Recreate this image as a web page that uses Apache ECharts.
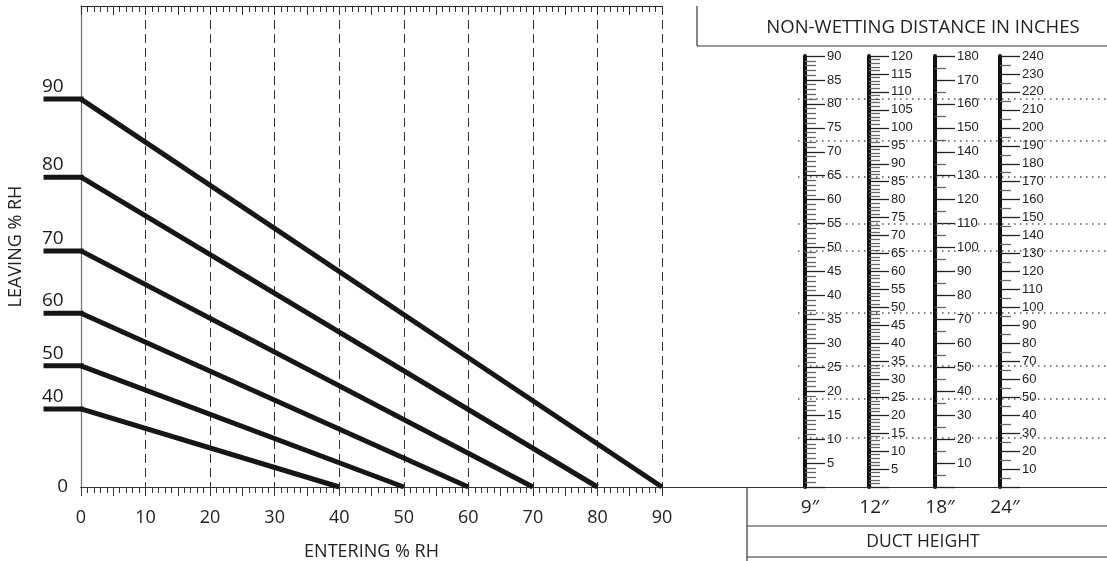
<!DOCTYPE html>
<html><head><meta charset="utf-8">
<script src="https://cdn.jsdelivr.net/npm/echarts@6/dist/echarts.min.js"></script>
<style>html,body{margin:0;padding:0;background:#fff}#c{width:1107px;height:561px}</style>
</head><body><div id="c"></div>
<script>
// ---- data ----
const enteringMax = 90;
const leavingRH = [90, 80, 70, 60, 50, 40];
// start height of each leaving line, in 9-inch non-wetting distance units
const leavingPos = [81.0, 64.7, 49.3, 36.3, 25.3, 16.3];
// dotted reference levels in 9-inch distance units
const dottedPos = [81.0, 72.2, 64.7, 54.9, 49.3, 36.3, 25.3, 18.4, 10.2];
const ductHeights = ['9\u2033', '12\u2033', '18\u2033', '24\u2033'];
const scaleMax = [90, 120, 180, 240];
const scaleStep = [5, 5, 10, 10];
const scaleMinorSplit = [5, 5, 2, 2];

// ---- layout ----
const plotTop = 6, axisY = 487, scaleTop = 56;
const plotLeft = 81, plotRight90 = 662, stubLeft = 46;
const scaleBarX = [805, 869, 935, 1000];
const mainYMax = scaleMax[0] * (axisY - plotTop) / (axisY - scaleTop);
const numFont = 'Open Sans';
const scaleFont = 'Liberation Sans';

const G = o => Object.assign({outerBoundsMode: 'none', containLabel: false}, o);
const grids = [
  G({left: plotLeft, top: plotTop, width: plotRight90 - plotLeft, height: axisY - plotTop}),
  G({left: plotLeft, top: plotTop, right: 0, height: axisY - plotTop}),
  G({left: 798, top: scaleTop, right: 0, height: axisY - scaleTop}),
  G({left: stubLeft, top: plotTop, width: plotLeft - stubLeft, height: axisY - plotTop})
];
scaleBarX.forEach(x => grids.push(G({left: x, top: scaleTop, width: 40, height: axisY - scaleTop})));

const tickStyle = {color: '#333', width: 1};
const xAxes = [
  {gridIndex: 0, type: 'value', position: 'bottom', min: 0, max: enteringMax, interval: 10,
   axisLine: {show: true, onZero: false, lineStyle: {color: '#222', width: 1}},
   axisTick: {show: true, length: 9, lineStyle: tickStyle},
   minorTick: {show: true, splitNumber: 10, length: 6, lineStyle: tickStyle},
   axisLabel: {show: true, margin: 22, fontFamily: numFont, fontSize: 18, color: '#222'},
   splitLine: {show: true, lineStyle: {color: '#333', width: 1, type: [9, 5]}},
   name: 'ENTERING % RH', nameLocation: 'middle', nameGap: 56,
   nameTextStyle: {fontFamily: numFont, fontSize: 18, color: '#222'}},
  {gridIndex: 0, type: 'value', position: 'bottom', min: 0, max: enteringMax, interval: 5,
   axisLine: {show: false}, axisTick: {show: true, length: 9, lineStyle: tickStyle},
   axisLabel: {show: false}, splitLine: {show: false}},
  {gridIndex: 0, type: 'value', position: 'top', min: 0, max: enteringMax, interval: 10,
   axisLine: {show: true, lineStyle: {color: '#222', width: 1}},
   axisTick: {show: true, inside: true, length: 9, lineStyle: tickStyle},
   minorTick: {show: true, splitNumber: 10, length: 6, lineStyle: tickStyle},
   axisLabel: {show: false}, splitLine: {show: false}},
  {gridIndex: 0, type: 'value', position: 'top', min: 0, max: enteringMax, interval: 5,
   axisLine: {show: false}, axisTick: {show: true, inside: true, length: 9, lineStyle: tickStyle},
   axisLabel: {show: false}, splitLine: {show: false}},
  {gridIndex: 1, type: 'value', position: 'bottom', min: 0, max: 1,
   axisLine: {show: true, onZero: false, lineStyle: {color: '#333', width: 1.2}},
   axisTick: {show: false}, axisLabel: {show: false}, splitLine: {show: false}},
  {gridIndex: 1, type: 'value', position: 'top', min: 0, max: 1,
   axisLine: {show: true, lineStyle: {color: '#333', width: 1.2}},
   axisTick: {show: false}, axisLabel: {show: false}, splitLine: {show: false}},
  {gridIndex: 2, type: 'value', min: 0, max: 1, show: false},
  {gridIndex: 3, type: 'value', min: 0, max: 1, show: false}
];
scaleBarX.forEach((x, i) => xAxes.push({gridIndex: 4 + i, type: 'value', min: 0, max: 1, show: false}));

const yAxes = [
  {gridIndex: 0, type: 'value', min: 0, max: mainYMax, interval: 50,
   axisLine: {show: true, lineStyle: {color: '#777', width: 1.3}},
   axisTick: {show: false}, splitLine: {show: false},
   axisLabel: {show: true, margin: 13, fontFamily: numFont, fontSize: 19, color: '#222',
               formatter: v => v === 0 ? '0' : ''},
   name: 'LEAVING % RH', nameLocation: 'middle', nameGap: 56,
   nameTextStyle: {fontFamily: numFont, fontSize: 18, color: '#222'}},
  {gridIndex: 1, type: 'value', min: 0, max: 1, show: false},
  {gridIndex: 2, type: 'value', min: 0, max: scaleMax[0], show: false},
  {gridIndex: 3, type: 'value', min: 0, max: mainYMax, show: false}
];
scaleBarX.forEach((x, i) => yAxes.push({
  gridIndex: 4 + i, type: 'value', position: 'left', min: 0, max: scaleMax[i], interval: scaleStep[i],
  axisLine: {show: true, lineStyle: {color: '#111', width: 4}},
  axisTick: {show: true, inside: true, length: 20, lineStyle: {color: '#222', width: 1.3}},
  minorTick: {show: true, splitNumber: scaleMinorSplit[i], length: 11, lineStyle: {color: '#666', width: 1.3}},
  axisLabel: {show: true, inside: true, margin: 22, fontFamily: scaleFont, fontSize: 13, color: '#222',
              formatter: v => v === 0 ? '' : String(v)},
  splitLine: {show: false},
  name: ductHeights[i], nameLocation: 'start', nameGap: 11,
  nameTextStyle: {fontFamily: numFont, fontSize: 19, color: '#222', padding: [0, 0, 0, 10]}
}));

const lineColor = '#161616';
const series = [];
leavingRH.forEach((L, i) => {
  // sloped line inside the chart
  series.push({
    type: 'line', xAxisIndex: 0, yAxisIndex: 0, silent: true, showSymbol: false, symbol: 'none',
    lineStyle: {color: lineColor, width: 5, cap: 'butt', join: 'miter'},
    data: [[0, leavingPos[i]], [L, 0]]
  });
  // stub left of the axis
  series.push({
    type: 'line', xAxisIndex: 7, yAxisIndex: 3, silent: true, clip: false,
    showSymbol: false, symbol: 'none',
    lineStyle: {color: lineColor, width: 5, cap: 'square'},
    data: [[0, leavingPos[i]], [1, leavingPos[i]]]
  });
});
// leaving %RH labels above the stubs
series.push({
  type: 'scatter', xAxisIndex: 7, yAxisIndex: 3, silent: true, clip: false,
  symbolSize: 2, itemStyle: {color: 'rgba(0,0,0,0)', opacity: 1},
  label: {show: true, position: 'top', align: 'left', distance: 2, offset: [-4, 0],
          fontFamily: numFont, fontSize: 19, color: '#1a1a1a', opacity: 1,
          formatter: p => String(p.value[2])},
  data: leavingRH.map((L, i) => [0, leavingPos[i], L])
});
series.push({
  type: 'line', xAxisIndex: 6, yAxisIndex: 2, data: [], silent: true,
  markLine: {silent: true, symbol: ['none', 'none'], label: {show: false},
             lineStyle: {color: '#555', width: 1.5, type: [1.5, 4.5]},
             data: dottedPos.map(v => ({yAxis: v}))}
});

const boxLine = {stroke: '#333', lineWidth: 1.2};
const graphic = [
  {type: 'line', shape: {x1: 697, y1: plotTop, x2: 697, y2: 46}, style: boxLine},
  {type: 'line', shape: {x1: 697, y1: 46, x2: 1107, y2: 46}, style: boxLine},
  {type: 'text', x: 923, y: 28, style: {text: 'NON-WETTING DISTANCE IN INCHES', align: 'center', verticalAlign: 'middle',
     font: '18.5px "Open Sans"', fill: '#222'}},
  {type: 'line', shape: {x1: 747, y1: axisY, x2: 747, y2: 561}, style: boxLine},
  {type: 'line', shape: {x1: 747, y1: 526, x2: 1107, y2: 526}, style: boxLine},
  {type: 'line', shape: {x1: 747, y1: 557, x2: 1107, y2: 557}, style: boxLine},
  {type: 'text', x: 923, y: 542, style: {text: 'DUCT HEIGHT', align: 'center', verticalAlign: 'middle',
     font: '17.5px "Open Sans"', fill: '#222'}}
];

const chart = echarts.init(document.getElementById('c'), null, {renderer: 'canvas'});
chart.setOption({
  animation: false,
  backgroundColor: '#fff',
  grid: grids, xAxis: xAxes, yAxis: yAxes, series: series, graphic: graphic
});
</script></body></html>
